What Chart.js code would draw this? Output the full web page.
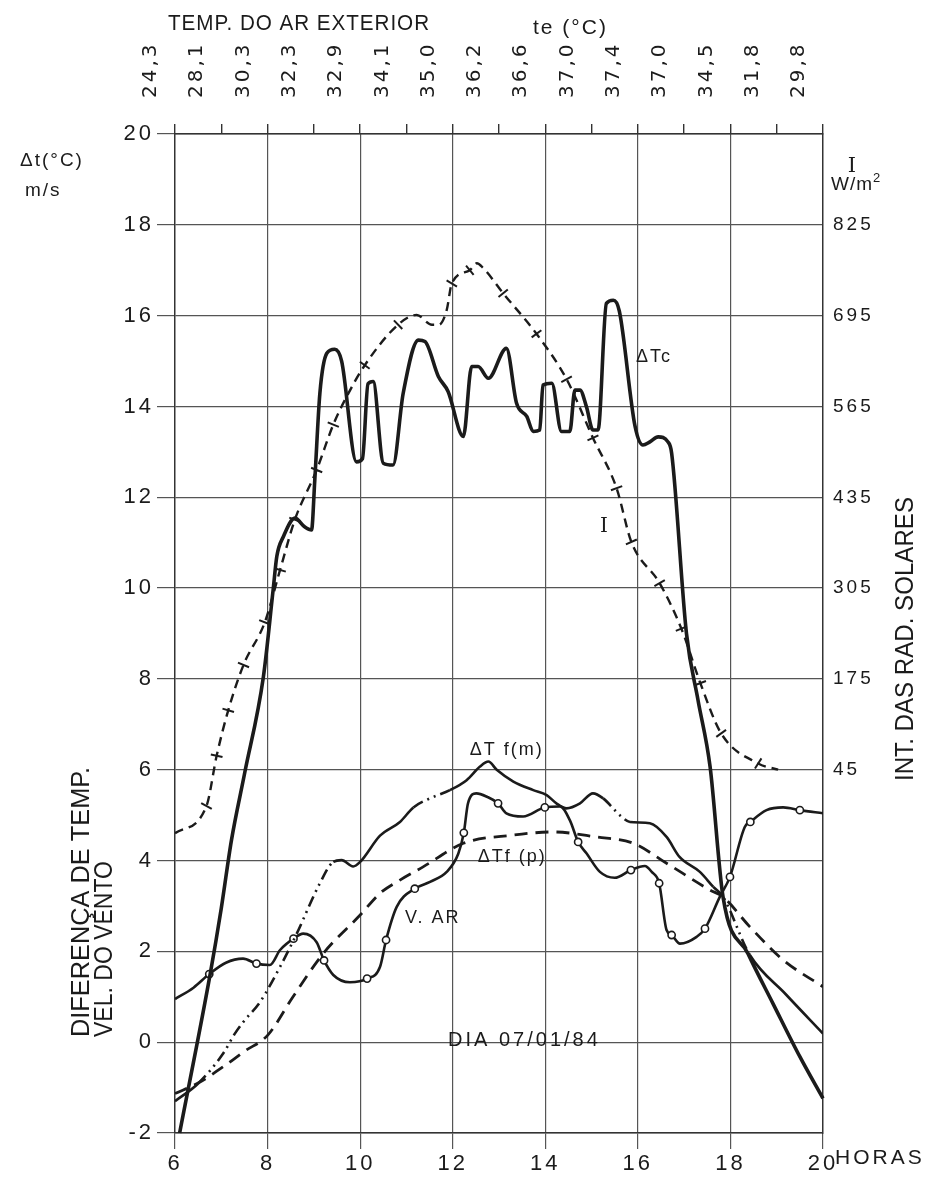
<!DOCTYPE html>
<html>
<head>
<meta charset="utf-8">
<script src="https://cdn.jsdelivr.net/npm/chart.js@4.4.1/dist/chart.umd.min.js"></script>
<style>
  html, body { margin: 0; padding: 0; background: #fff; }
  canvas { display: block; }
</style>
</head>
<body>
<canvas id="chart" width="934" height="1187"></canvas>
<script>
// hourly outside air temperature, shown on the top axis
const teHours = [6, 7, 8, 9, 10, 11, 12, 13, 14, 15, 16, 17, 18, 19, 20];
const teLabels = ['24,3', '28,1', '30,3', '32,3', '32,9', '34,1', '35,0', '36,2',
  '36,6', '37,0', '37,4', '37,0', '34,5', '31,8', '29,8'];

// right axis, solar radiation (W/m2)
const iTickValues = [45, 175, 305, 435, 565, 695, 825];

// ΔTc
const dtcHours = [6.1, 6.76, 7.0, 7.22, 7.5, 7.91, 8.12, 8.2, 8.34, 8.59, 8.8, 8.95, 9.02, 9.13,
  9.28, 9.45, 9.6, 9.92, 10.05, 10.17, 10.28, 10.5, 10.71, 10.93, 11.26, 11.4, 11.69, 11.9,
  12.23, 12.41, 12.55, 12.77, 13.16, 13.38, 13.6, 13.74, 13.88, 13.95, 14.14, 14.35, 14.53,
  14.64, 14.75, 14.89, 15.03, 15.14, 15.32, 15.47, 15.6, 15.94, 16.11, 16.26, 16.44, 16.65,
  16.73, 17.05, 17.3, 17.56, 17.84, 18.38, 18.92, 19.5, 20.0];
const dtcValues = [-2.0, 1.5, 2.95, 4.45, 5.9, 8.05, 9.96, 10.7, 11.13, 11.54, 11.35, 11.28, 12.38, 14.29,
  15.17, 15.26, 15.0, 12.78, 12.85, 14.5, 14.55, 12.75, 12.71, 14.29, 15.46, 15.43, 14.66, 14.33,
  13.34, 14.88, 14.88, 14.62, 15.28, 14.07, 13.78, 13.45, 13.48, 14.47, 14.51, 13.45, 13.45,
  14.36, 14.36, 13.99, 13.48, 13.48, 16.27, 16.34, 16.1, 13.56, 13.15, 13.22, 13.33, 13.22,
  12.97, 9.0, 7.53, 6.07, 3.2, 1.95, 0.85, -0.32, -1.24];

// I, solar radiation (W/m2)
const iHours = [6.0, 6.68, 6.9, 7.15, 7.48, 7.94, 8.27, 8.59, 9.06, 9.42, 9.7, 10.1, 10.82, 11.22,
  11.55, 11.7, 11.87, 11.98, 12.37, 12.52, 12.66, 13.09, 13.81, 14.46, 15.03, 15.54, 15.86,
  16.47, 16.94, 17.35, 17.8, 18.6, 19.03];
const iValues = [-46, -7, 65, 130, 195, 256, 331, 403, 474, 539, 578, 624, 682, 696,
  682, 682, 703, 741, 760, 770, 763, 727, 669, 604, 520, 448, 371,
  312, 247, 169, 97, 54, 45];
const iMarkedHours = [6.68, 6.9, 7.15, 7.48, 7.94, 8.27, 8.59, 9.06, 9.42, 10.1, 10.82, 11.98, 12.37,
  13.09, 13.81, 14.46, 15.03, 15.54, 15.86, 16.47, 16.94, 17.35, 17.8, 18.6];

// ΔTf(m)
const dtfmHours = [6.0, 6.5, 7.04, 7.3, 7.48, 7.84, 8.27, 8.63, 9.13, 9.42, 9.6, 9.85, 10.0, 10.43,
  10.86, 11.15, 11.51, 11.94, 12.3, 12.59, 12.77, 12.95, 13.31, 13.74, 14.03, 14.24, 14.46,
  14.75, 15.03, 15.25, 15.61, 15.83, 16.26, 16.62, 16.9, 17.34, 17.63, 17.84, 18.42, 19.2, 20.0];
const dtfmValues = [-1.3, -0.91, -0.25, 0.2, 0.45, 0.89, 1.66, 2.39, 3.5, 3.97, 4.01, 3.87, 3.97, 4.55,
  4.85, 5.17, 5.37, 5.55, 5.77, 6.07, 6.18, 6.0, 5.74, 5.55, 5.44, 5.26, 5.15,
  5.26, 5.48, 5.37, 5.0, 4.85, 4.82, 4.52, 4.08, 3.75, 3.42, 3.2, 1.92, 1.05, 0.19];

// ΔTf(p)
const dtfpHours = [6.0, 6.5, 7.1, 7.5, 8.0, 8.55, 9.2, 10.0, 10.43, 10.86, 11.36, 12.23, 13.31,
  14.17, 15.1, 15.9, 16.62, 17.56, 17.84, 18.42, 19.14, 20.0];
const dtfpValues = [-1.13, -0.9, -0.5, -0.2, 0.15, 1.0, 1.95, 2.8, 3.28, 3.57, 3.86, 4.38, 4.56,
  4.63, 4.52, 4.38, 3.94, 3.35, 3.2, 2.54, 1.81, 1.22];

// V. AR, wind speed (m/s)
const varHours = [6.0, 6.4, 6.74, 7.1, 7.47, 7.76, 8.05, 8.27, 8.56, 8.77, 9.06, 9.22, 9.42, 9.78,
  10.15, 10.43, 10.56, 10.79, 11.18, 11.51, 11.87, 12.12, 12.24, 12.33, 12.51, 12.75, 12.98,
  13.16, 13.52, 13.99, 14.32, 14.53, 14.71, 14.89, 15.18, 15.5, 15.85, 16.15, 16.3, 16.46,
  16.62, 16.73, 16.91, 17.27, 17.45, 17.77, 17.99, 18.31, 18.43, 18.78, 19.14, 19.5, 20.0];
const varValues = [0.95, 1.2, 1.5, 1.75, 1.84, 1.73, 1.7, 2.03, 2.28, 2.39, 2.2, 1.8, 1.48, 1.32,
  1.4, 1.66, 2.25, 2.98, 3.38, 3.53, 3.75, 4.15, 4.61, 5.26, 5.48, 5.4, 5.26,
  5.04, 4.97, 5.17, 5.19, 4.89, 4.41, 4.16, 3.75, 3.62, 3.79, 3.88, 3.75, 3.5,
  2.47, 2.36, 2.17, 2.32, 2.5, 3.2, 3.64, 4.74, 4.85, 5.11, 5.17, 5.11, 5.04];
const varMarkedHours = [6.74, 7.76, 8.56, 9.22, 10.15, 10.56, 11.18, 12.24, 12.98, 13.99, 14.71,
  15.85, 16.46, 16.73, 17.45, 17.99, 18.43, 19.5];

const toPoints = (hours, values) => hours.map((h, i) => ({ x: h, y: values[i] }));

const FONT = "'Liberation Sans', 'DejaVu Sans', sans-serif";
const WIDE_FONT = "'DejaVu Sans', 'Liberation Sans', sans-serif";
const INK = '#1b1b1b';
const GRID = '#555';

// parts of ΔTf(m) drawn dash-dot-dot, the rest is solid
const dtfmBrokenSpans = [[6.5, 9.4], [11.1, 11.9], [15.1, 15.8], [17.5, 18.4]];
const inBrokenSpan = x => dtfmBrokenSpans.some(([a, b]) => x >= a - 1e-6 && x < b);

// cross ticks on the I curve stand across the line
const tickRotation = ctx => {
  const data = ctx.dataset.data;
  const i = ctx.dataIndex;
  const xs = ctx.chart.scales.x;
  const ys = ctx.chart.scales.yI;
  if (!xs || !ys || i === undefined) return 0;
  const a = data[Math.max(i - 1, 0)];
  const b = data[Math.min(i + 1, data.length - 1)];
  const dx = xs.getPixelForValue(b.x) - xs.getPixelForValue(a.x);
  const dy = ys.getPixelForValue(b.y) - ys.getPixelForValue(a.y);
  return Math.atan2(dy, dx) * 180 / Math.PI + 90;
};

// the hand lettering of the original is widely spaced
const lettering = {
  id: 'lettering',
  beforeDraw(chart) {
    chart.ctx.letterSpacing = '3px';
  }
};

const annotations = {
  id: 'annotations',
  afterDraw(chart) {
    const { ctx, scales: { x, y } } = chart;
    const text = (str, px, py, size, opts = {}) => {
      ctx.save();
      ctx.font = `${size}px ${opts.family || FONT}`;
      ctx.letterSpacing = opts.spacing || '2px';
      ctx.fillStyle = INK;
      ctx.textAlign = opts.align || 'left';
      ctx.textBaseline = 'alphabetic';
      ctx.translate(px, py);
      if (opts.rotate) ctx.rotate(opts.rotate);
      if (opts.maxWidth) ctx.fillText(str, 0, 0, opts.maxWidth);
      else ctx.fillText(str, 0, 0);
      ctx.restore();
    };
    const at = (h, v) => [x.getPixelForValue(h), y.getPixelForValue(v)];

    // top titles
    text('TEMP. DO AR EXTERIOR', 168, 30, 22, { maxWidth: 262, spacing: '1px' });
    text('te (°C)', 533, 34, 21);

    // left titles
    text('Δt(°C)', 20, 166, 19);
    text('m/s', 25, 196, 19);
    text('DIFERENÇA DE TEMP.', 89, 1037, 26, { rotate: -Math.PI / 2, maxWidth: 270, spacing: '0px' });
    text('VEL. DO VENTO', 112, 1037, 26, { rotate: -Math.PI / 2, maxWidth: 176, spacing: '0px' });

    // right titles
    text('I', 852, 172, 21, { align: 'center', family: "'DejaVu Serif', serif", spacing: '0px' });
    text('W/m', 831, 190, 19, { spacing: '1px' });
    text('2', 873, 182, 13, { spacing: '0px' });
    text('INT. DAS RAD. SOLARES', 913, 781, 26, { rotate: -Math.PI / 2, maxWidth: 284, spacing: '0px' });

    // x title
    text('HORAS', 835, 1164, 21, { spacing: '3px' });

    // curve names
    text('ΔTc', ...at(15.96, 14.98), 18);
    text('I', ...at(15.18, 11.23), 20, { family: "'DejaVu Serif', serif" });
    text('ΔT f(m)', ...at(12.37, 6.32), 18);
    text('ΔTf (p)', ...at(12.54, 3.96), 18);
    text('V. AR', ...at(10.97, 2.62), 18);
    text('DIA 07/01/84', ...at(11.9, -0.09), 20, { spacing: '3px' });
  }
};

new Chart(document.getElementById('chart'), {
  type: 'line',
  data: {
    datasets: [
      {
        label: 'ΔTc',
        data: toPoints(dtcHours, dtcValues),
        borderColor: INK,
        borderWidth: 3.6,
        pointRadius: 0,
        cubicInterpolationMode: 'monotone',
        clip: false
      },
      {
        label: 'I',
        yAxisID: 'yI',
        data: toPoints(iHours, iValues),
        borderColor: INK,
        borderWidth: 2.4,
        borderDash: [9, 6],
        cubicInterpolationMode: 'monotone',
        pointStyle: 'line',
        pointRadius: ctx => (iMarkedHours.includes(ctx.raw?.x) ? 6 : 0),
        pointBorderWidth: 2,
        pointBorderColor: INK,
        pointRotation: tickRotation
      },
      {
        label: 'ΔTf(m)',
        data: toPoints(dtfmHours, dtfmValues),
        borderColor: INK,
        borderWidth: 2.6,
        pointRadius: 0,
        cubicInterpolationMode: 'monotone',
        segment: {
          borderDash: ctx => (inBrokenSpan(ctx.p0.parsed.x) ? [11, 5, 2, 5, 2, 5] : undefined)
        }
      },
      {
        label: 'ΔTf(p)',
        data: toPoints(dtfpHours, dtfpValues),
        borderColor: INK,
        borderWidth: 2.8,
        borderDash: [13, 8],
        pointRadius: 0,
        cubicInterpolationMode: 'monotone'
      },
      {
        label: 'V. AR',
        data: toPoints(varHours, varValues),
        borderColor: INK,
        borderWidth: 2.6,
        cubicInterpolationMode: 'monotone',
        pointStyle: 'circle',
        pointRadius: ctx => (varMarkedHours.includes(ctx.raw?.x) ? 3.6 : 0),
        pointBackgroundColor: '#fff',
        pointBorderColor: INK,
        pointBorderWidth: 1.6
      }
    ]
  },
  options: {
    responsive: false,
    animation: false,
    devicePixelRatio: 1,
    layout: { padding: 0 },
    plugins: {
      legend: { display: false },
      tooltip: { enabled: false }
    },
    scales: {
      x: {
        type: 'linear',
        position: 'bottom',
        min: 6,
        max: 20,
        ticks: { stepSize: 2, color: INK, padding: 2, font: { family: FONT, size: 22 } },
        grid: { color: GRID, lineWidth: 1.2, tickLength: 16, tickColor: GRID },
        border: { color: '#333', width: 1.4 },
        afterFit: scale => { scale.height = 54; }
      },
      xTop: {
        type: 'linear',
        position: 'top',
        min: 6,
        max: 20,
        afterBuildTicks: scale => { scale.ticks = teHours.map(h => ({ value: h })); },
        ticks: {
          autoSkip: false,
          minRotation: 90,
          maxRotation: 90,
          padding: 26,
          color: INK,
          font: { family: WIDE_FONT, size: 20 },
          callback: v => teLabels[teHours.indexOf(v)] ?? ''
        },
        grid: { drawOnChartArea: false, tickLength: 10, color: '#333', lineWidth: 1.4 },
        border: { color: '#333', width: 1.6 },
        afterFit: scale => { scale.height = 134; }
      },
      y: {
        position: 'left',
        min: -2,
        max: 20,
        ticks: { stepSize: 2, color: INK, padding: 3, font: { family: FONT, size: 22 } },
        grid: { color: GRID, lineWidth: 1.2, tickLength: 18, tickColor: GRID },
        border: { color: '#333', width: 1.4 },
        afterFit: scale => { scale.width = 175; }
      },
      yI: {
        position: 'right',
        min: -475,
        max: 955,
        afterBuildTicks: scale => { scale.ticks = iTickValues.map(v => ({ value: v })); },
        ticks: { color: INK, padding: 10, font: { family: FONT, size: 19 } },
        grid: { drawOnChartArea: false, drawTicks: false },
        border: { color: '#333', width: 1.4 },
        afterFit: scale => { scale.width = 111; }
      }
    }
  },
  plugins: [lettering, annotations]
});
</script>
</body>
</html>
